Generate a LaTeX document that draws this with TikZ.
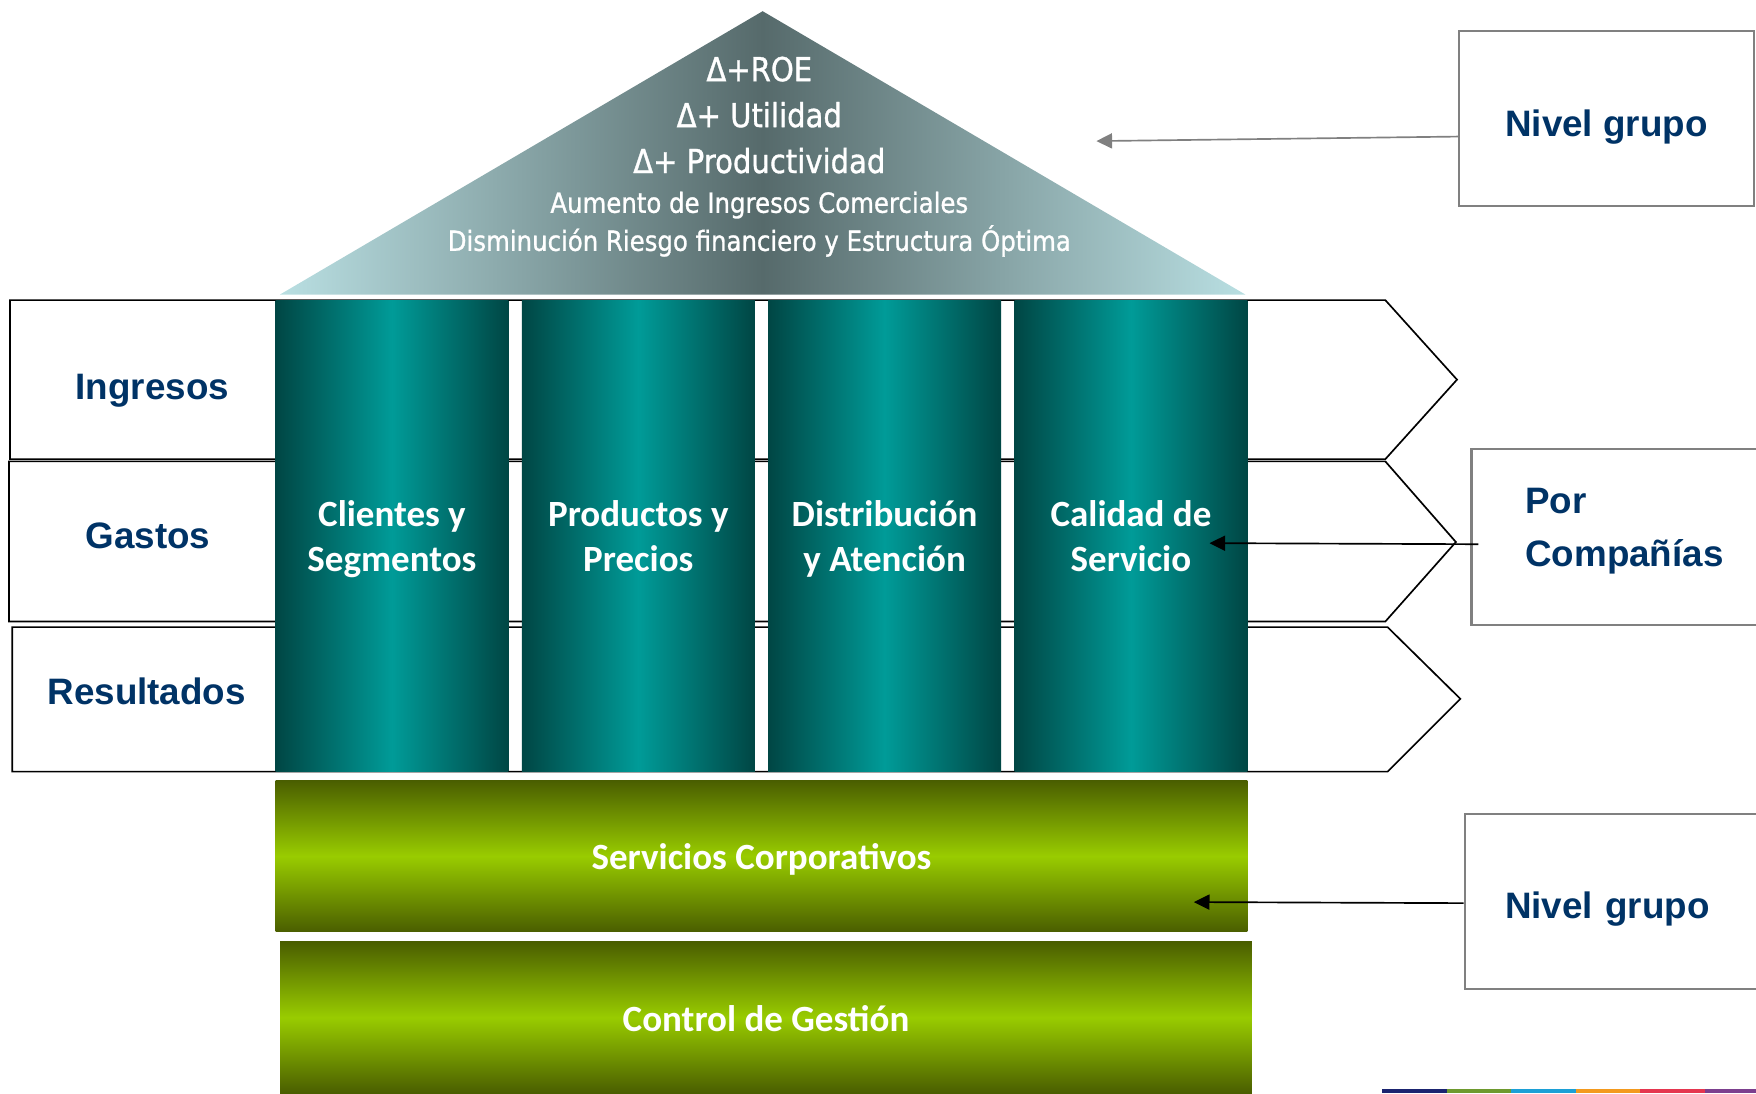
\documentclass[tikz,border=0pt]{standalone}
\usepackage{fontspec}
\setmainfont{Liberation Sans}
\newfontfamily\calibri{Carlito}
\newfontfamily\tahoma[FakeStretch=0.88, FakeBold=1]{DejaVu Sans}
\usetikzlibrary{positioning, arrows.meta}

\definecolor{navy}{RGB}{0,51,102}
\definecolor{tealdark}{RGB}{0,70,68}
\definecolor{tealbright}{RGB}{0,155,152}
\definecolor{roofdark}{RGB}{86,106,107}
\definecolor{rooflight}{RGB}{185,223,226}
\definecolor{olivedark}{RGB}{74,94,0}
\definecolor{limebright}{RGB}{153,204,0}
\definecolor{boxgray}{RGB}{128,128,128}
\definecolor{stripenavy}{RGB}{27,36,112}
\definecolor{stripegreen}{RGB}{110,154,46}
\definecolor{stripecyan}{RGB}{28,160,214}
\definecolor{stripeorange}{RGB}{243,154,30}
\definecolor{stripered}{RGB}{229,54,79}
\definecolor{stripepurple}{RGB}{124,63,142}

\tikzset{
    rowshape/.style={draw=black, fill=white, line width=0.85pt},
    rowlabel/.style={anchor=base, inner sep=0pt, text=navy, font=\bfseries\fontsize{18.7}{22}\selectfont},
    pillar/.style={left color=tealdark, right color=tealdark, middle color=tealbright,
        minimum width=4.16cm, minimum height=8.42cm, inner sep=0pt, outer sep=0pt,
        text=white, text depth=0pt, align=center, font=\calibri\bfseries\fontsize{18.8}{22.7}\selectfont},
    basebar/.style={top color=olivedark, bottom color=olivedark, middle color=limebright,
        minimum width=17.36cm, minimum height=2.7cm, inner sep=0pt, outer sep=0pt,
        text=white, text height=0.62cm, text depth=0.13cm, font=\calibri\bfseries\fontsize{18.8}{22.7}\selectfont},
    infobox/.style={draw=boxgray, line width=1.1pt, fill=white, anchor=north west,
        inner sep=0pt, text=navy, font=\bfseries\fontsize{18.7}{27}\selectfont},
    rooftext/.style={anchor=base, inner sep=0pt, text=white, font=\tahoma\fontsize{16.8}{20}\selectfont},
    roofsmall/.style={rooftext, font=\tahoma\fontsize{14.1}{18}\selectfont},
    pointer/.style={-{Triangle[length=0.28cm, width=0.27cm]}, line width=0.85pt}
}

\begin{document}
\begin{tikzpicture}[x=0.02cm, y=-0.02cm]
    \clip (0,0) rectangle (1568,976);

    % ROOF
    \shade[left color=rooflight, right color=rooflight, middle color=roofdark]
        (250,263) -- (681,10) -- (1112,263) -- cycle;
    \node[rooftext] (roe) at (678,72.5) {Δ+ROE};
    \node[rooftext] (utilidad) at (678,113.5) {Δ+ Utilidad};
    \node[rooftext] (productividad) at (678,154.5) {Δ+ Productividad};
    \node[roofsmall] (ingcom) at (678,190) {Aumento de Ingresos Comerciales};
    \node[roofsmall] (riesgo) at (678,224) {Disminución Riesgo financiero y Estructura Óptima};

    % ROWS
    \draw[rowshape] (9,268) -- (1237,268) -- (1301,339) -- (1237,410) -- (9,410) -- cycle;
    \draw[rowshape] (8,412) -- (1237,412) -- (1300,484) -- (1237,555) -- (8,555) -- cycle;
    \draw[rowshape] (11,560) -- (1239,560) -- (1304,624) -- (1239,689) -- (11,689) -- cycle;
    \node[rowlabel] (ingresos) at (136,357) {Ingresos};
    \node[rowlabel] (gastos) at (132,490) {Gastos};
    \node[rowlabel] (resultados) at (131,629) {Resultados};

    % PILLARS
    \node[pillar] (clientes) at (350,478.5) {Clientes y\\Segmentos};
    \node[pillar, right=0.24cm of clientes] (productos) {Productos y\\Precios};
    \node[pillar, right=0.24cm of productos] (distribucion) {Distribución\\y Atención};
    \node[pillar, right=0.24cm of distribucion] (calidad) {Calidad de\\Servicio};

    % BASE
    \node[basebar] (servicios) at (680,764.5) {Servicios Corporativos};
    \node[basebar] (control) at (684,908.5) {Control de Gestión};

    % SIDE BOXES
    \node[infobox, minimum width=5.26cm, minimum height=3.12cm, text height=0.76cm, align=center] (nivelA) at (1302,27) {Nivel grupo};
    \node[infobox, minimum height=3.14cm, text width=4.6cm, text depth=1.3cm, inner xsep=0.96cm, align=left] (companias) at (1313,400) {Por\\Compañías};
    \node[infobox, minimum height=3.12cm, text width=4.6cm, text height=0.76cm, inner xsep=0.72cm, align=left] (nivelC) at (1307,726) {Nivel grupo};

    % POINTERS
    \coordinate (roetip) at (979,126);
    \coordinate (calidadtip) at (1080,485);
    \coordinate (serviciostip) at (1066,805.5);
    \draw[pointer, draw=boxgray] ([yshift=-0.32cm]nivelA.west) -- (roetip);
    \draw[pointer] ([xshift=0.14cm, yshift=-0.13cm]companias.west) -- (calidadtip);
    \draw[pointer] ([yshift=-0.03cm]nivelC.west) -- (serviciostip);

    % STRIPE
    \fill[stripenavy] (1234,972) rectangle (1292,976);
    \fill[stripegreen] (1292,972) rectangle (1349,976);
    \fill[stripecyan] (1349,972) rectangle (1407,976);
    \fill[stripeorange] (1407,972) rectangle (1464,976);
    \fill[stripered] (1464,972) rectangle (1522,976);
    \fill[stripepurple] (1522,972) rectangle (1568,976);
\end{tikzpicture}
\end{document}
